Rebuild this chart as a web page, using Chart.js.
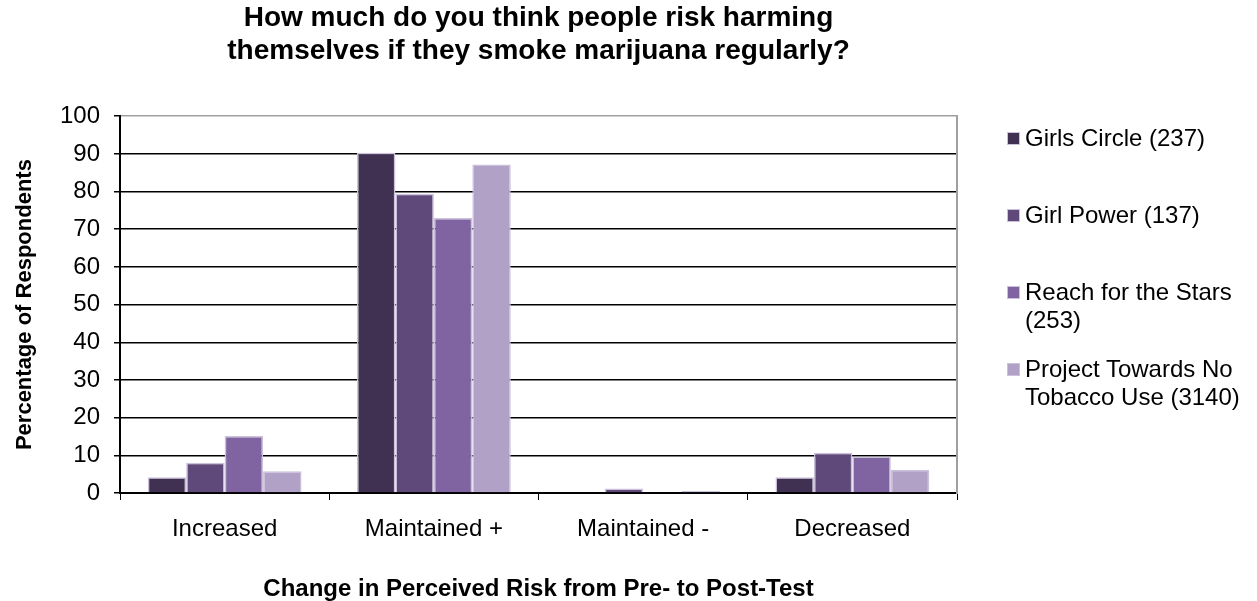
<!DOCTYPE html>
<html>
<head>
<meta charset="utf-8">
<title>Perceived risk of regular marijuana use</title>
<script src="https://cdn.jsdelivr.net/npm/chart.js@4"></script>
<style>
  body { margin: 0; background: #fff; }
  #wrap { position: relative; width: 1257px; height: 601px; }
  #legend { position: absolute; left: 1007px; top: 0; font-family: 'Liberation Sans', Arial, sans-serif; font-size: 24px; color: #000; }
  .item { position: absolute; left: 0; width: 240px; display: flex; align-items: flex-start; }
  .box { width: 11px; height: 11px; border: 1px solid #ccc1da; margin-top: 7px; margin-right: 5px; flex: none; }
  .text { width: 222px; line-height: 28px; margin-top: -1px; }
</style>
</head>
<body>
<div id="wrap">
  <canvas id="riskChart"></canvas>
  <div id="legend"></div>
</div>
<script>
// ! data :
const categories = ["Increased", "Maintained +", "Maintained -", "Decreased"];
const seriesNames = [
  "Girls Circle (237)",
  "Girl Power (137)",
  "Reach for the Stars (253)",
  "Project Towards No Tobacco Use (3140)",
];
const girlsCircle = [4.2, 90.3, 0, 4.2];
const girlPower = [8.0, 79.4, 1.2, 10.7];
const reachStars = [15.1, 73.0, 0, 9.7];
const projectTnt = [5.8, 87.2, 0.5, 6.2];
const yTicks = [0, 10, 20, 30, 40, 50, 60, 70, 80, 90, 100];

const colors = ["#403152", "#5f497a", "#8064a2", "#b2a1c7"];
const seriesValues = [girlsCircle, girlPower, reachStars, projectTnt];

Chart.defaults.font.family = "'Liberation Sans', Arial, sans-serif";
Chart.defaults.color = "#000";

// ! chart :
const ctx = document.getElementById("riskChart");

new Chart(ctx, {
  type: "bar",
  data: {
    labels: categories,
    datasets: seriesNames.map((name, i) => ({
      label: name,
      data: seriesValues[i],
      backgroundColor: colors[i],
      borderColor: "#ccc1da",
      borderWidth: 1.5,
      categoryPercentage: 0.735,
      barPercentage: 1.0,
    })),
  },
  options: {
    responsive: true,
    maintainAspectRatio: false,
    animation: false,
    layout: { padding: { top: 0, left: 0, right: 300, bottom: 0 } },
    plugins: {
      legend: { display: false },
      tooltip: { enabled: false },
      title: {
        display: true,
        fullSize: false,
        text: [
          "How much do you think people risk harming",
          "themselves if they smoke marijuana regularly?",
        ],
        font: { size: 28, weight: "bold", lineHeight: 1.2 },
        color: "#000",
        padding: { top: 1, bottom: 48 },
      },
    },
    scales: {
      x: {
        afterFit: (scale) => { scale.height = 108; },
        grid: { display: true, drawOnChartArea: false, color: "#000", tickLength: 7, offset: true },
        border: { color: "#000", width: 2 },
        ticks: { font: { size: 24 }, padding: 15, color: "#000" },
        title: {
          display: true,
          text: "Change in Perceived Risk from Pre- to Post-Test",
          font: { size: 24, weight: "bold", lineHeight: 1 },
          padding: { top: 0, bottom: 0 },
          color: "#000",
        },
      },
      y: {
        min: 0,
        max: 100,
        afterFit: (scale) => { scale.width = 120; },
        afterBuildTicks: (scale) => { scale.ticks = yTicks.map((v) => ({ value: v })); },
        grid: {
          color: (c) => (c.tick && c.tick.value === 100 ? "#a0a0a0" : "#000"),
          tickColor: "#000",
          lineWidth: 1.5,
          tickLength: 6,
        },
        border: { color: "#000", width: 2 },
        ticks: { font: { size: 24 }, padding: 14, color: "#000" },
        title: {
          display: true,
          text: "Percentage of Respondents",
          font: { size: 22, weight: "bold", lineHeight: 1.2 },
          padding: { top: 12, bottom: 0 },
          color: "#000",
        },
      },
      // right frame line of the plot area
      y2: {
        position: "right",
        min: 0,
        max: 100,
        afterFit: (scale) => { scale.width = 0; },
        grid: { drawOnChartArea: false, drawTicks: false },
        border: { color: "#a0a0a0", width: 2 },
        ticks: { display: false },
      },
    },
  },
});

// ! legend :
const legend = document.getElementById("legend");
seriesNames.forEach((name, i) => {
  const item = document.createElement("div");
  item.className = "item";
  item.style.top = 125 + 77 * i + "px";
  const box = document.createElement("span");
  box.className = "box";
  box.style.background = colors[i];
  const text = document.createElement("span");
  text.className = "text";
  text.textContent = name;
  item.appendChild(box);
  item.appendChild(text);
  legend.appendChild(item);
});
</script>
</body>
</html>
